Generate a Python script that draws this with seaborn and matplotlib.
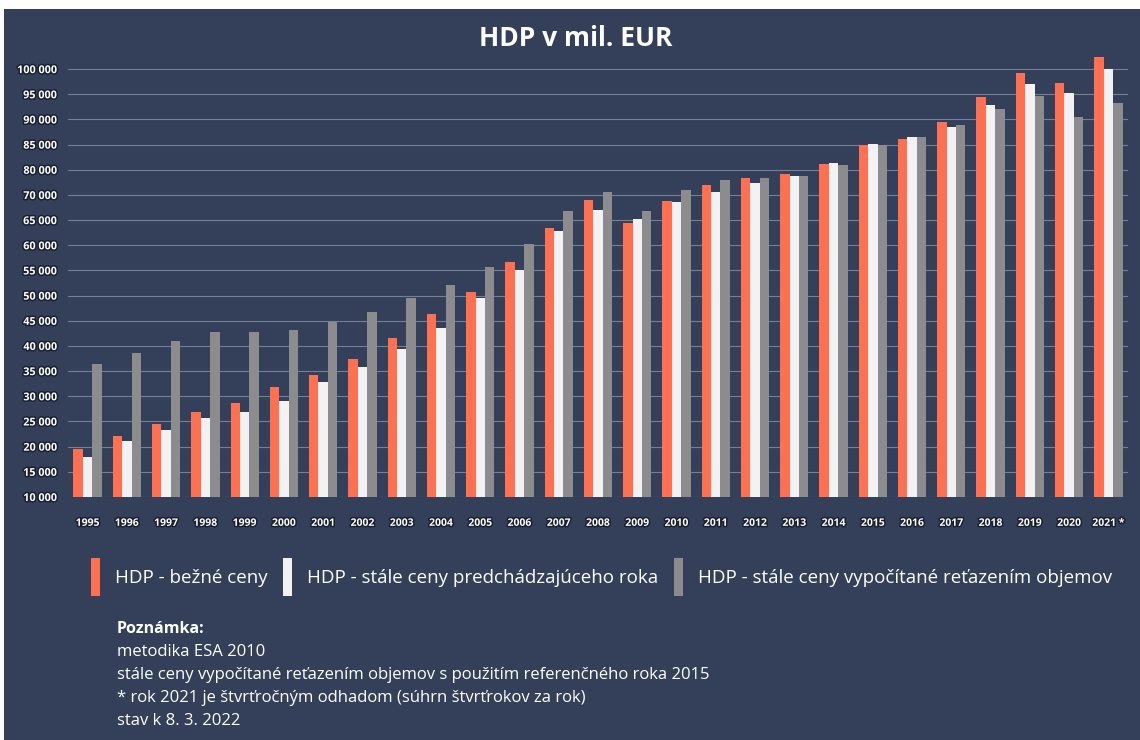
import matplotlib
matplotlib.use("Agg")
from matplotlib import pyplot as plt
from matplotlib.patches import Patch, Rectangle
import matplotlib.patheffects as pe
import seaborn as sns
import pandas as pd

# Data (mil. EUR)
years = ['1995', '1996', '1997', '1998', '1999', '2000', '2001', '2002', '2003',
         '2004', '2005', '2006', '2007', '2008', '2009', '2010', '2011', '2012',
         '2013', '2014', '2015', '2016', '2017', '2018', '2019', '2020', '2021']
year_labels = years[:-1] + ['2021 *']

bezne = [19530, 22070, 24530, 26870, 28600, 31800, 34330, 37470, 41530, 46400,
         50670, 56670, 63470, 69000, 64530, 68870, 72000, 73280, 74210, 76070,
         79850, 81050, 84570, 89480, 94330, 92340, 97320]
predch = [17870, 21070, 23330, 25670, 26870, 29000, 32800, 35870, 39330, 43670,
          49470, 55130, 62800, 67000, 65200, 68530, 70670, 72420, 73740, 76270,
          80050, 81510, 83500, 87820, 92000, 90210, 94990]
retaz = [36330, 38670, 41000, 42800, 42870, 43200, 44800, 46800, 49470, 52130,
         55670, 60200, 66870, 70670, 66800, 71000, 73000, 73410, 73810, 75940,
         79850, 81510, 83900, 87160, 89680, 85560, 88350]

series_names = ['HDP - bežné ceny',
                'HDP - stále ceny predchádzajúceho roka',
                'HDP - stále ceny vypočítané reťazením objemov']

# tick labels as printed in the original (it skips "75 000")
ytick_vals = list(range(10000, 100000, 5000))
ytick_labels = ['10 000', '15 000', '20 000', '25 000', '30 000', '35 000',
                '40 000', '45 000', '50 000', '55 000', '60 000', '65 000',
                '70 000', '80 000', '85 000', '90 000', '95 000', '100 000']

df = pd.DataFrame({
    'rok': years * 3,
    'hodnota': bezne + predch + retaz,
    'seria': [series_names[0]] * 27 + [series_names[1]] * 27 + [series_names[2]] * 27,
})

bg = '#34405a'
colors = ['#ff7050', '#f2f2f5', '#8c8c8e']
font = ['Open Sans', 'DejaVu Sans']

sns.set_style('white')
plt.rcParams['font.family'] = font

fig = plt.figure(figsize=(11.4, 7.4), dpi=100, facecolor='white')
fig.patches.append(Rectangle((4 / 1140, 0), 1, 1 - 9 / 740, transform=fig.transFigure,
                             facecolor=bg, edgecolor='none', zorder=-10))
ax = fig.add_axes([68 / 1140, 243 / 740, 1060 / 1140, 448 / 740])
ax.set_facecolor('none')

sns.barplot(df, x='rok', y='hodnota', hue='seria', palette=colors, width=0.72,
            saturation=1, linewidth=0, ax=ax, legend=False, zorder=3)

ax.set_ylim(10000, 99000)
ax.set_xlim(-0.5, 26.5)
ax.set_yticks(ytick_vals)
ax.set_yticklabels(ytick_labels)
ax.set_xticks(range(len(years)))
ax.set_xticklabels(year_labels)
ax.grid(axis='y', color='#c8d0de', alpha=0.45, linewidth=0.8, zorder=0)
ax.set_axisbelow(True)
for s in ax.spines.values():
    s.set_visible(False)
ax.tick_params(axis='both', length=0, colors='white')
ax.tick_params(axis='y', pad=8, labelsize=7.8)
ax.tick_params(axis='x', pad=15, labelsize=7.5)
halo = [pe.withStroke(linewidth=2.2, foreground='#1a2030')]
for t in ax.get_xticklabels() + ax.get_yticklabels():
    t.set_fontweight('bold')
    t.set_path_effects(halo)
ax.set_xlabel('')
ax.set_ylabel('')

fig.text(0.505, 1 - 38 / 740, 'HDP v mil. EUR', ha='center', va='center',
         color='white', fontsize=19, fontweight='bold')

handles = [Patch(facecolor=c, edgecolor='none') for c in colors]
fig.legend(handles, series_names, loc='center left',
           bbox_to_anchor=(91 / 1140, 1 - 577 / 740), ncol=3, frameon=False,
           fontsize=13.5, labelcolor='white', handlelength=0.5, handleheight=2.7,
           handletextpad=0.8, columnspacing=0.8, borderpad=0, borderaxespad=0)

fig.text(117 / 1140, 1 - 629 / 740, 'Poznámka:', color='white', fontsize=11.5,
         fontweight='bold', va='center')
notes = ['metodika ESA 2010',
         'stále ceny vypočítané reťazením objemov s použitím referenčného roka 2015',
         '* rok 2021 je štvrťročným odhadom (súhrn štvrťrokov za rok)',
         'stav k 8. 3. 2022']
for i, line in enumerate(notes):
    fig.text(117 / 1140, 1 - (652 + 23 * i) / 740, line, color='white',
             fontsize=12, va='center')

plt.savefig('out.png', dpi=100, facecolor=fig.get_facecolor())
